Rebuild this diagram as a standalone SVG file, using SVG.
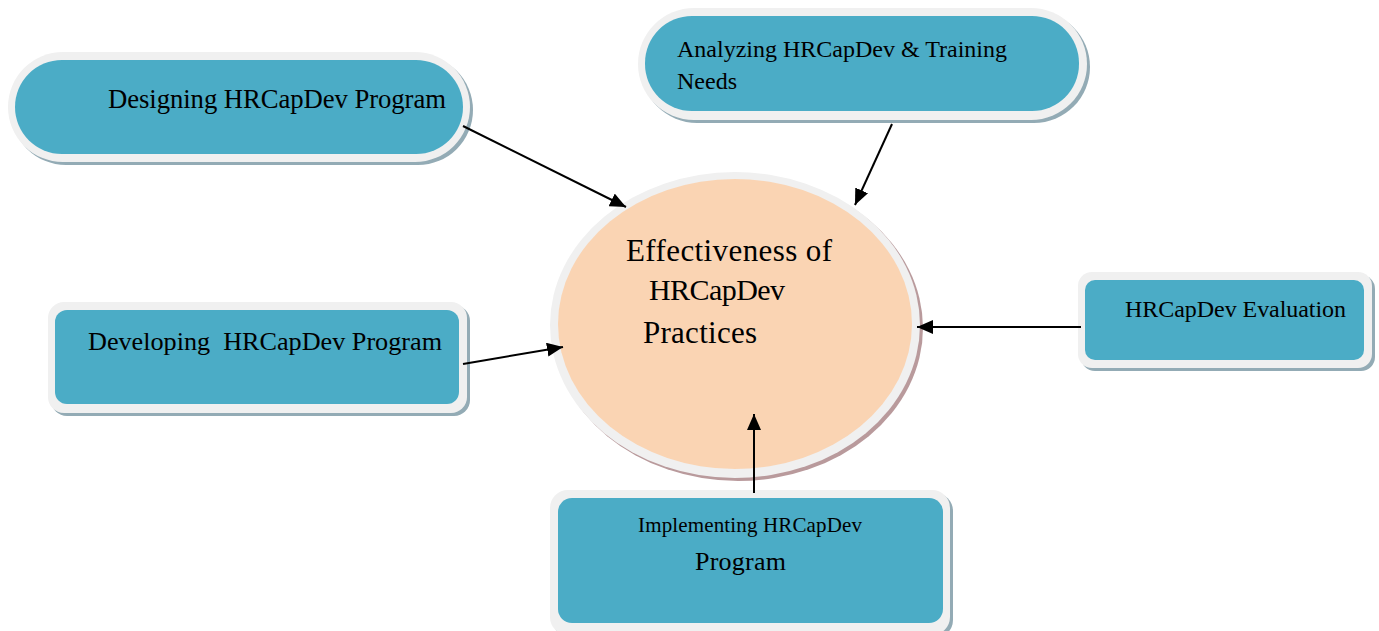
<svg xmlns="http://www.w3.org/2000/svg" width="1379" height="631" viewBox="0 0 1379 631">
  <defs>
    <marker id="arrow" markerUnits="userSpaceOnUse" markerWidth="18" markerHeight="14" refX="16" refY="7" orient="auto">
      <path d="M0,0 L16,7 L0,14 Z" fill="#000"/>
    </marker>
  </defs>
  <style>
    .shadow { fill: #93abb5; }
    .rim { fill: #f0f0f0; }
    .box { fill: #4bacc6; }
    .core-shadow { fill: #b99a9c; }
    .core { fill: #fad4b3; }
    .label { font-family: "Liberation Serif", "Times New Roman", serif; fill: #000; }
    .link { stroke: #000; stroke-width: 2; fill: none; marker-end: url(#arrow); }
  </style>

  <rect width="1379" height="631" fill="#fff"/>

  <!-- central outcome -->
  <g id="effectiveness">
    <ellipse class="core-shadow" cx="738" cy="328" rx="185" ry="153"/>
    <ellipse class="rim" cx="735" cy="325" rx="185" ry="153"/>
    <ellipse class="core" cx="735" cy="324" rx="177" ry="145"/>
    <text class="label" font-size="31" x="626" y="261" textLength="206">Effectiveness of</text>
    <text class="label" font-size="30" x="649" y="300" textLength="136">HRCapDev</text>
    <text class="label" font-size="31" x="643" y="343" textLength="114">Practices</text>
  </g>

  <!-- top-left process -->
  <g id="designing">
    <rect class="shadow" x="11" y="55" width="462" height="110" rx="55"/>
    <rect class="rim" x="8" y="52" width="462" height="110" rx="55"/>
    <rect class="box" x="15" y="60" width="448" height="94" rx="47"/>
    <text class="label" font-size="26.7" x="108" y="108" textLength="338">Designing HRCapDev Program</text>
  </g>

  <!-- top process -->
  <g id="analyzing">
    <rect class="shadow" x="641" y="11" width="449" height="112" rx="56"/>
    <rect class="rim" x="638" y="8" width="449" height="112" rx="56"/>
    <rect class="box" x="645" y="16" width="434" height="95" rx="47"/>
    <text class="label" font-size="24" x="677" y="57" textLength="330">Analyzing HRCapDev &amp; Training</text>
    <text class="label" font-size="24" x="677" y="89">Needs</text>
  </g>

  <!-- left process -->
  <g id="developing">
    <rect class="shadow" x="51" y="305" width="419" height="111" rx="16"/>
    <rect class="rim" x="48" y="302" width="419" height="111" rx="16"/>
    <rect class="box" x="55" y="310" width="404" height="94" rx="12"/>
    <text class="label" font-size="26.2" x="88" y="350" xml:space="preserve" textLength="354">Developing  HRCapDev Program</text>
  </g>

  <!-- right process -->
  <g id="evaluation">
    <rect class="shadow" x="1081" y="275" width="294" height="96" rx="14"/>
    <rect class="rim" x="1078" y="272" width="294" height="96" rx="14"/>
    <rect class="box" x="1085" y="280" width="279" height="80" rx="10"/>
    <text class="label" font-size="24" x="1125" y="317" textLength="221">HRCapDev Evaluation</text>
  </g>

  <!-- bottom process -->
  <g id="implementing">
    <rect class="shadow" x="553" y="493" width="400" height="145" rx="18"/>
    <rect class="rim" x="550" y="490" width="400" height="145" rx="18"/>
    <rect class="box" x="558" y="498" width="385" height="125" rx="14"/>
    <text class="label" font-size="21" x="638" y="532" textLength="224">Implementing HRCapDev</text>
    <text class="label" font-size="26" x="695" y="570" textLength="91">Program</text>
  </g>

  <g id="connectors">
    <line class="link" x1="463" y1="126" x2="626" y2="207"/>
    <line class="link" x1="892" y1="124" x2="855" y2="205"/>
    <line class="link" x1="1081" y1="327" x2="917" y2="327"/>
    <line class="link" x1="463" y1="364" x2="563" y2="347"/>
    <line class="link" x1="754" y1="493" x2="754" y2="414"/>
  </g>
</svg>
